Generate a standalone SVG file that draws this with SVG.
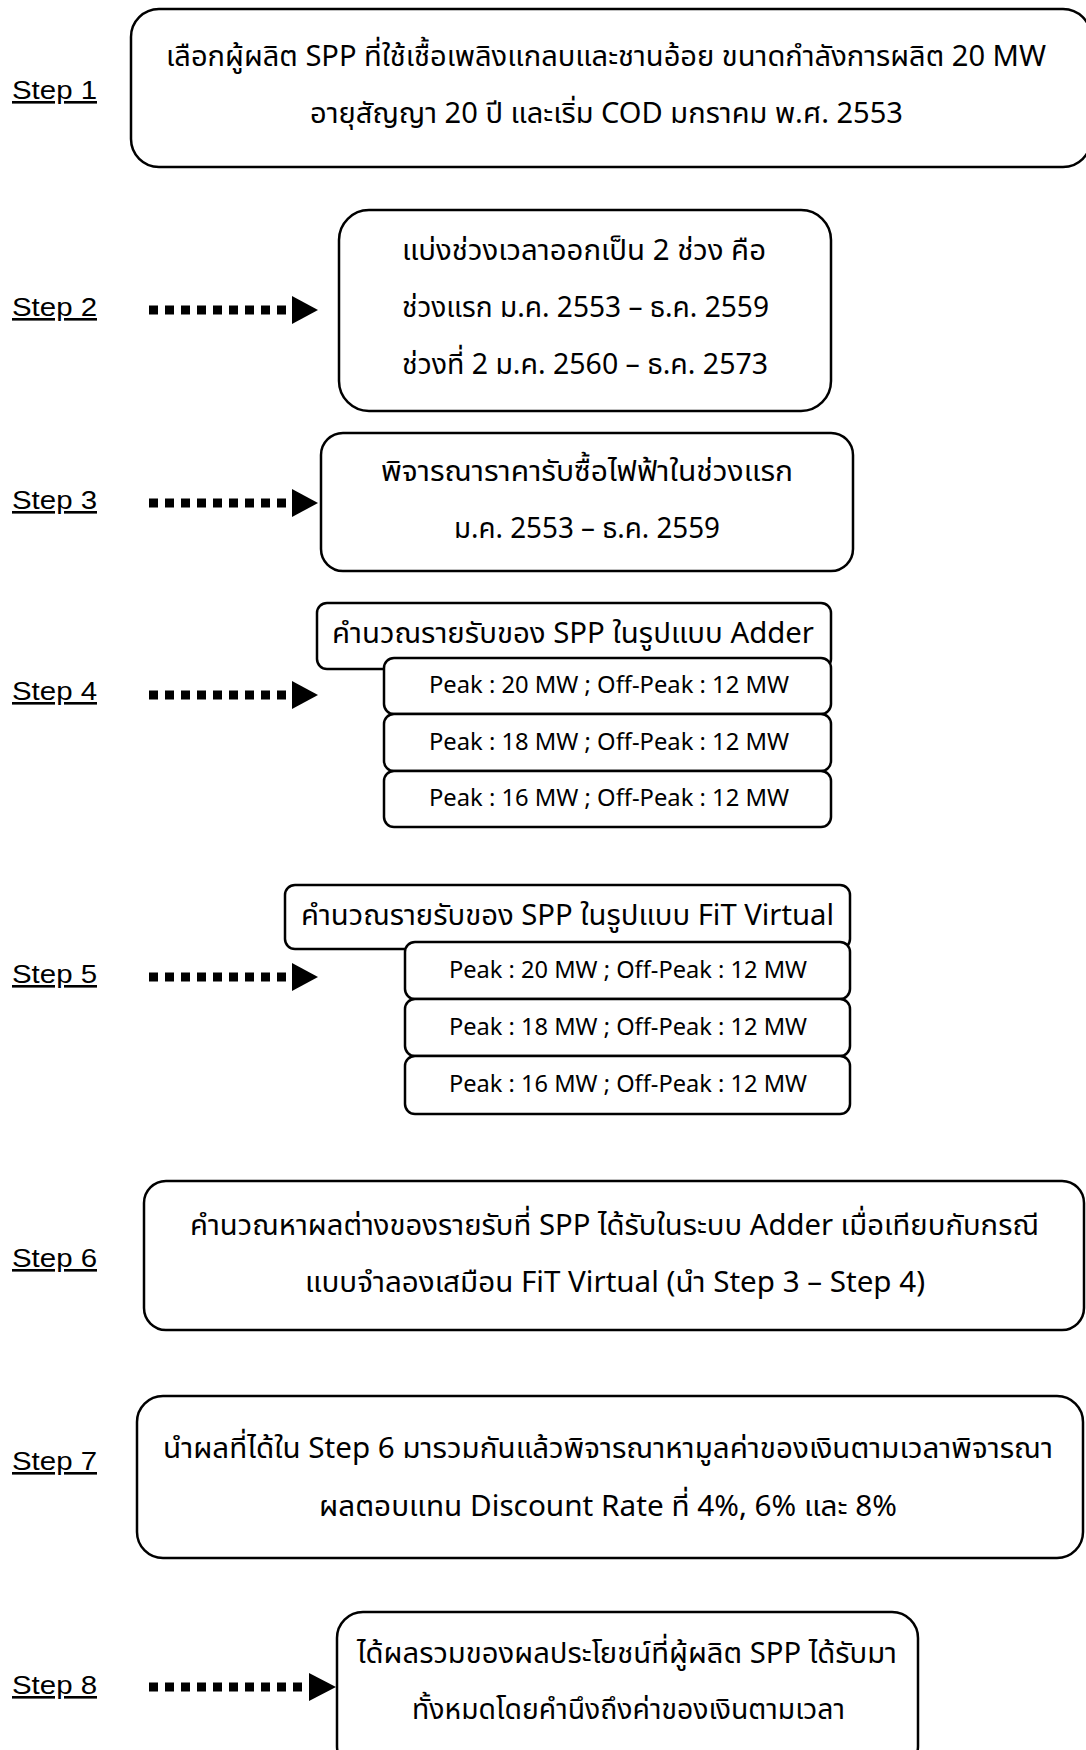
<svg xmlns="http://www.w3.org/2000/svg" width="1086" height="1750" viewBox="0 0 1086 1750">
<defs>
<style>
.box{fill:#fff;stroke:#000;stroke-width:2.5}
.t{font-family:"Noto Sans Thai","Noto Sans",Tahoma,sans-serif;font-size:29px;fill:#000}
.s{font-family:"Noto Sans Thai","Noto Sans",Tahoma,sans-serif;font-size:24px;fill:#000}
.lbl{font-family:"Liberation Sans",Arial,sans-serif;font-size:26px;fill:#000;text-decoration:underline}
.dash{stroke:#000;stroke-width:9;stroke-dasharray:9 7;fill:none}
</style>
</defs>
<rect width="1086" height="1750" fill="#fff"/>
<g id="labels">
<text class="lbl" x="12" y="99" textLength="85" lengthAdjust="spacingAndGlyphs">Step 1</text>
<text class="lbl" x="12" y="316" textLength="85" lengthAdjust="spacingAndGlyphs">Step 2</text>
<text class="lbl" x="12" y="509" textLength="85" lengthAdjust="spacingAndGlyphs">Step 3</text>
<text class="lbl" x="12" y="700" textLength="85" lengthAdjust="spacingAndGlyphs">Step 4</text>
<text class="lbl" x="12" y="983" textLength="85" lengthAdjust="spacingAndGlyphs">Step 5</text>
<text class="lbl" x="12" y="1267" textLength="85" lengthAdjust="spacingAndGlyphs">Step 6</text>
<text class="lbl" x="12" y="1470" textLength="85" lengthAdjust="spacingAndGlyphs">Step 7</text>
<text class="lbl" x="12" y="1694" textLength="85" lengthAdjust="spacingAndGlyphs">Step 8</text>
</g>
<g id="connectors">
<line class="dash" x1="149" y1="310" x2="293" y2="310"/><polygon points="292,296 318,310 292,324"/>
<line class="dash" x1="149" y1="503" x2="293" y2="503"/><polygon points="292,489 318,503 292,517"/>
<line class="dash" x1="149" y1="695" x2="293" y2="695"/><polygon points="292,681 318,695 292,709"/>
<line class="dash" x1="149" y1="977" x2="293" y2="977"/><polygon points="292,963 318,977 292,991"/>
<line class="dash" x1="149" y1="1687" x2="309" y2="1687"/><polygon points="309,1673 336,1687 309,1701"/>
</g>
<g id="step1">
<rect class="box" x="131" y="9" width="960" height="158" rx="28"/>
<text class="t" x="166" y="66" textLength="880" lengthAdjust="spacingAndGlyphs">เลือกผู้ผลิต SPP ที่ใช้เชื้อเพลิงแกลบและชานอ้อย ขนาดกำลังการผลิต 20 MW</text>
<text class="t" x="310" y="123" textLength="593" lengthAdjust="spacingAndGlyphs">อายุสัญญา 20 ปี และเริ่ม COD มกราคม พ.ศ. 2553</text>
</g>
<g id="step2">
<rect class="box" x="339" y="210" width="492" height="201" rx="30"/>
<text class="t" x="402" y="260" textLength="364" lengthAdjust="spacingAndGlyphs">แบ่งช่วงเวลาออกเป็น 2 ช่วง คือ</text>
<text class="t" x="402" y="317" textLength="367" lengthAdjust="spacingAndGlyphs">ช่วงแรก ม.ค. 2553 – ธ.ค. 2559</text>
<text class="t" x="402" y="374" textLength="366" lengthAdjust="spacingAndGlyphs">ช่วงที่ 2 ม.ค. 2560 – ธ.ค. 2573</text>
</g>
<g id="step3">
<rect class="box" x="321" y="433" width="532" height="138" rx="22"/>
<text class="t" x="381" y="481" textLength="412" lengthAdjust="spacingAndGlyphs">พิจารณาราคารับซื้อไฟฟ้าในช่วงแรก</text>
<text class="t" x="454" y="538" textLength="266" lengthAdjust="spacingAndGlyphs">ม.ค. 2553 – ธ.ค. 2559</text>
</g>
<g id="step4">
<rect class="box" x="317" y="603" width="514" height="66" rx="10"/>
<text class="t" x="332" y="643" textLength="482" lengthAdjust="spacingAndGlyphs">คำนวณรายรับของ SPP ในรูปแบบ Adder</text>
<rect class="box" x="384" y="658" width="447" height="56" rx="10"/>
<text class="s" x="429" y="693" textLength="360" lengthAdjust="spacingAndGlyphs">Peak : 20 MW ; Off-Peak : 12 MW</text>
<rect class="box" x="384" y="714" width="447" height="57" rx="10"/>
<text class="s" x="429" y="750" textLength="360" lengthAdjust="spacingAndGlyphs">Peak : 18 MW ; Off-Peak : 12 MW</text>
<rect class="box" x="384" y="771" width="447" height="56" rx="10"/>
<text class="s" x="429" y="806" textLength="360" lengthAdjust="spacingAndGlyphs">Peak : 16 MW ; Off-Peak : 12 MW</text>
</g>
<g id="step5">
<rect class="box" x="285" y="885" width="565" height="64" rx="10"/>
<text class="t" x="301" y="925" textLength="533" lengthAdjust="spacingAndGlyphs">คำนวณรายรับของ SPP ในรูปแบบ FiT Virtual</text>
<rect class="box" x="405" y="942" width="445" height="57" rx="10"/>
<text class="s" x="449" y="978" textLength="358" lengthAdjust="spacingAndGlyphs">Peak : 20 MW ; Off-Peak : 12 MW</text>
<rect class="box" x="405" y="999" width="445" height="57" rx="10"/>
<text class="s" x="449" y="1035" textLength="358" lengthAdjust="spacingAndGlyphs">Peak : 18 MW ; Off-Peak : 12 MW</text>
<rect class="box" x="405" y="1056" width="445" height="58" rx="10"/>
<text class="s" x="449" y="1092" textLength="358" lengthAdjust="spacingAndGlyphs">Peak : 16 MW ; Off-Peak : 12 MW</text>
</g>
<g id="step6">
<rect class="box" x="144" y="1181" width="940" height="149" rx="22"/>
<text class="t" x="190" y="1235" textLength="849" lengthAdjust="spacingAndGlyphs">คำนวณหาผลต่างของรายรับที่ SPP ได้รับในระบบ Adder เมื่อเทียบกับกรณี</text>
<text class="t" x="305" y="1292" textLength="620" lengthAdjust="spacingAndGlyphs">แบบจำลองเสมือน FiT Virtual (นำ Step 3 – Step 4)</text>
</g>
<g id="step7">
<rect class="box" x="137" y="1396" width="946" height="162" rx="26"/>
<text class="t" x="163" y="1458" textLength="890" lengthAdjust="spacingAndGlyphs">นำผลที่ได้ใน Step 6 มารวมกันแล้วพิจารณาหามูลค่าของเงินตามเวลาพิจารณา</text>
<text class="t" x="319" y="1516" textLength="578" lengthAdjust="spacingAndGlyphs">ผลตอบแทน Discount Rate ที่ 4%, 6% และ 8%</text>
</g>
<g id="step8">
<rect class="box" x="337" y="1612" width="581" height="160" rx="26"/>
<text class="t" x="357" y="1663" textLength="540" lengthAdjust="spacingAndGlyphs">ได้ผลรวมของผลประโยชน์ที่ผู้ผลิต SPP ได้รับมา</text>
<text class="t" x="412" y="1719" textLength="433" lengthAdjust="spacingAndGlyphs">ทั้งหมดโดยคำนึงถึงค่าของเงินตามเวลา</text>
</g>
</svg>
